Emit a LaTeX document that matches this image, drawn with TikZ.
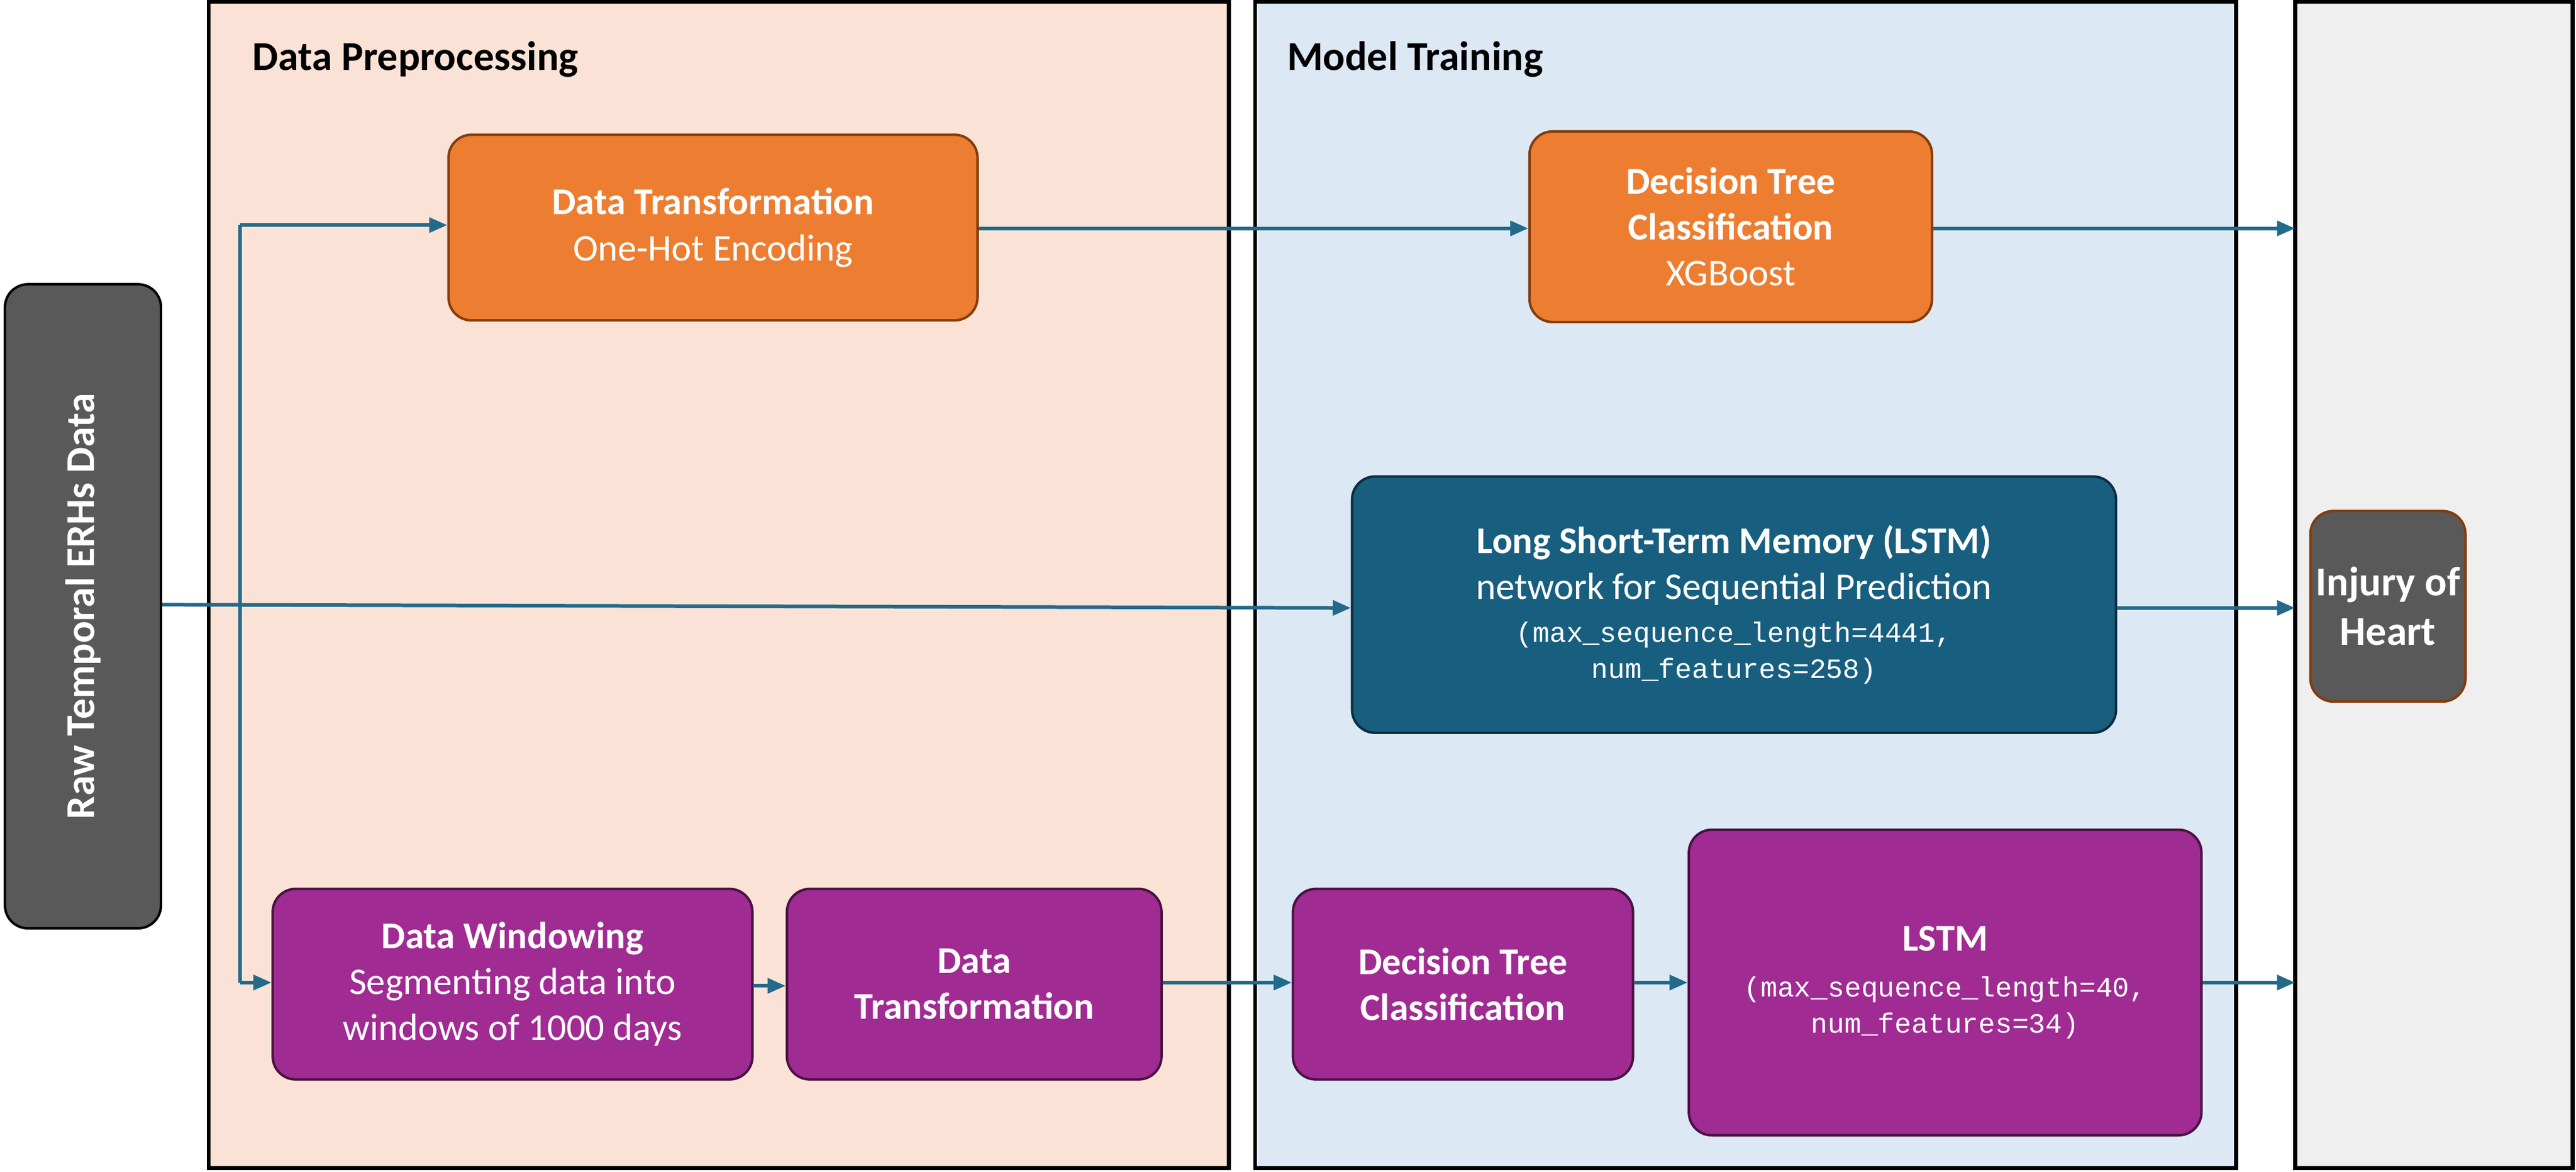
\documentclass[tikz,border=0pt]{standalone}
\usepackage{fontspec}
\setmainfont{Carlito}
\setmonofont{Liberation Mono}
\usetikzlibrary{arrows.meta}
\definecolor{arr}{HTML}{236A8A}
\definecolor{org}{HTML}{ED7D31}
\definecolor{orgd}{HTML}{843C0C}
\definecolor{pur}{HTML}{A02B93}
\definecolor{purd}{HTML}{4A1242}
\definecolor{blu}{HTML}{175E7F}
\definecolor{blud}{HTML}{0B2E40}
\definecolor{gry}{HTML}{595959}
\definecolor{p1}{HTML}{FAE3D6}
\definecolor{p2}{HTML}{DDE8F5}
\definecolor{p3}{HTML}{EFEFEF}
\begin{document}
\begin{tikzpicture}[x=1pt,y=-1pt,
  panel/.style={draw=black,line width=2.5pt},
  box/.style={draw,line width=1.5pt,rounded corners=14pt,text=white,align=center,font=\fontsize{23}{28}\selectfont},
  ar/.style={draw=arr,line width=2.2pt,-{Triangle[length=11pt,width=9pt]}},
  ln/.style={draw=arr,line width=2.2pt}]
\useasboundingbox (0,0) rectangle (1568,713);
\path[panel,fill=p1] (127,1) rectangle (748,711);
\path[panel,fill=p2] (764,1) rectangle (1361,711);
\path[panel,fill=p3] (1397,1) rectangle (1566,711);
\coordinate (rp) at (1397,0);
\node[font=\fontsize{25}{30}\selectfont\bfseries,anchor=west] (t1) at (150,36) {Data Preprocessing};
\node[font=\fontsize{25}{30}\selectfont\bfseries,anchor=west] (t2) at (780,36) {Model Training};
\node[box,fill=gry,draw=black,minimum width=392pt,minimum height=95pt,rotate=90,font=\fontsize{25}{30}\selectfont\bfseries] (raw) at (50.5,369) {Raw Temporal ERHs Data};
\node[box,fill=org,draw=orgd,minimum width=322pt,minimum height=113pt] (dt) at (434,138.5) {\textbf{Data Transformation}\\One-Hot Encoding};
\node[box,fill=org,draw=orgd,minimum width=245pt,minimum height=116pt] (xg) at (1053.5,138) {\textbf{Decision Tree}\\\textbf{Classification}\\XGBoost};
\node[box,fill=blu,draw=blud,minimum width=465pt,minimum height=156pt] (lstm) at (1055.5,368) {\textbf{Long Short-Term Memory (LSTM)}\\network for Sequential Prediction\\[-2pt]{\ttfamily\fontsize{17}{22}\selectfont (max\_sequence\_length=4441,}\\[-6pt]{\ttfamily\fontsize{17}{22}\selectfont num\_features=258)}};
\node[box,fill=gry,draw=orgd,minimum width=87pt,minimum height=116pt,font=\fontsize{25}{30}\selectfont\bfseries] (inj) at (1453.5,369) {Injury of\\Heart};
\node[box,fill=pur,draw=purd,minimum width=292pt,minimum height=116pt] (dw) at (312,599) {\textbf{Data Windowing}\\Segmenting data into\\windows of 1000 days};
\node[box,fill=pur,draw=purd,minimum width=228pt,minimum height=116pt] (dt2) at (593,599) {\textbf{Data}\\\textbf{Transformation}};
\node[box,fill=pur,draw=purd,minimum width=207pt,minimum height=116pt] (dtc) at (890.5,599) {\textbf{Decision Tree}\\\textbf{Classification}};
\node[box,fill=pur,draw=purd,minimum width=312pt,minimum height=186pt] (l2) at (1184,598) {\textbf{LSTM}\\{\ttfamily\fontsize{17}{22}\selectfont (max\_sequence\_length=40,}\\[-6pt]{\ttfamily\fontsize{17}{22}\selectfont num\_features=34)}};
\draw[ar] (raw.south |- 0,368) -- (lstm.west |- 0,370);
\draw[ln] (146,137) -- (146,598);
\draw[ar] (146,137) -- (dt.west |- 0,137);
\draw[ar] (146,598) -- (dw.west |- 0,598);
\draw[ar] (dt.east |- 0,139) -- (xg.west |- 0,139);
\draw[ar] (xg.east |- 0,139) -- (rp |- 0,139);
\draw[ar] (lstm.east |- 0,370) -- (rp |- 0,370);
\draw[ar] (dw.east |- 0,600) -- (dt2.west |- 0,600);
\draw[ar] (dt2.east |- 0,598) -- (dtc.west |- 0,598);
\draw[ar] (dtc.east |- 0,598) -- (l2.west |- 0,598);
\draw[ar] (l2.east |- 0,598) -- (rp |- 0,598);
\end{tikzpicture}
\end{document}
